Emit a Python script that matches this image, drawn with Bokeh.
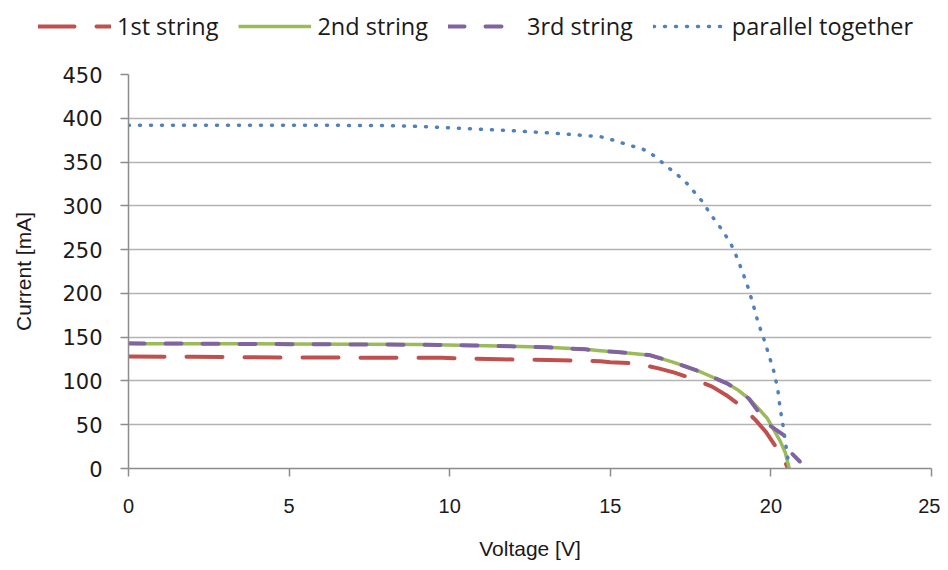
from bokeh.plotting import figure
from bokeh.models import Legend, LegendItem, FixedTicker, Range1d
from bokeh.embed import file_html
from bokeh.resources import INLINE

# ---- data ----
v1 = [0, 2, 5, 8, 9.76, 11.58, 13.45, 14.69, 15.0, 15.83, 16.5, 17.0, 17.54, 18.17, 18.6, 19.05, 19.51, 19.85, 20.14, 20.3, 20.45, 20.52]
i1 = [128, 127.5, 126.8, 126.5, 126.4, 124.8, 123.7, 122.5, 121.4, 119.9, 114.3, 109.5, 102.9, 93.5, 84, 72, 55.8, 41.5, 25.7, 16, 6.8, 1]

v2 = [0, 5, 9.09, 10.75, 11.89, 13.03, 14.22, 14.69, 15.21, 16.25, 17.0, 17.8, 18.63, 19.0, 19.36, 19.88, 20.29, 20.45, 20.57]
i2 = [142.5, 142.3, 141.5, 140.6, 139.5, 138.4, 136.1, 134.5, 133.1, 129.3, 121, 110.5, 97.3, 89, 78.4, 57.7, 31.3, 18, 0]

v3 = [0, 5, 9.09, 10.75, 11.89, 13.03, 14.22, 14.69, 15.21, 16.25, 17.0, 17.8, 18.63, 19.0, 19.31, 19.57, 19.93, 20.4, 20.55, 20.9]
i3 = [143, 142, 141.4, 140.6, 139.5, 138.4, 136.1, 134, 133.1, 129.3, 121, 110.5, 97.3, 89, 80, 67, 50, 38, 21, 8]

vp = [0, 3, 6, 8.06, 9.09, 10.64, 11.98, 13.34, 14.69, 15.0, 15.31, 15.62, 15.94, 16.22, 16.47, 16.70, 16.94,
      17.18, 17.40, 17.59, 17.79, 17.96, 18.11, 18.29, 18.47, 18.62, 18.77, 18.89, 19.10, 19.29, 19.45, 19.60,
      19.79, 19.95, 20.11, 20.22, 20.29, 20.38, 20.47, 20.55]
ip = [392, 392, 392, 391.7, 390.6, 388, 385.7, 382.7, 379, 376, 372.5, 368.8, 366, 361, 354, 347, 339.7,
      332.6, 325, 316.7, 308.5, 299.8, 290.7, 282, 273, 264.4, 255.3, 245.8, 226.2, 206.7, 187, 167,
      147, 128, 108.6, 88.6, 68.2, 48.3, 25.7, 6]

series_names = ["1st string", "2nd string", "3rd string", "parallel together"]
x_ticks = [0, 5, 10, 15, 20, 25]
y_ticks = [0, 50, 100, 150, 200, 250, 300, 350, 400, 450]

styles = [
    dict(line_color="#C0504D", line_width=4, line_dash="36 22", line_cap="round", line_join="round"),
    dict(line_color="#9BBB59", line_width=3.5, line_join="round"),
    dict(line_color="#8064A2", line_width=4, line_dash="16 21", line_cap="round", line_join="round"),
    dict(line_color="#4F81BD", line_width=3.5, line_dash="1 10", line_cap="round", line_join="round"),
]
xs = [v1, v2, v3, vp]
ys = [i1, i2, i3, ip]

LEG_H = 45

# ---------- main chart ----------
p = figure(width=940, height=562 - LEG_H, output_backend="svg", toolbar_location=None,
           x_range=Range1d(0, 25), y_range=Range1d(0, 450),
           min_border_left=128, min_border_right=9, min_border_top=74 - LEG_H, min_border_bottom=91)
p.outline_line_color = None
p.background_fill_color = "white"
p.border_fill_color = "white"

for vx, iy, st in zip(xs, ys, styles):
    p.line(vx, iy, **st)

axis_color = "#8c8c8c"
label_font = "'Liberation Sans', sans-serif"
for ax in (p.xaxis[0], p.yaxis[0]):
    ax.axis_line_color = axis_color
    ax.axis_line_width = 1.5
    ax.major_tick_line_color = axis_color
    ax.major_tick_line_width = 1.5
    ax.major_tick_in = 0
    ax.major_tick_out = 8
    ax.minor_tick_line_color = None
    ax.major_label_text_color = "#1a1a1a"
    ax.axis_label_text_color = "#1a1a1a"
    ax.axis_label_text_font = label_font
    ax.axis_label_text_font_style = "normal"
    ax.axis_label_text_font_size = "21px"

p.xaxis[0].ticker = FixedTicker(ticks=x_ticks)
p.yaxis[0].ticker = FixedTicker(ticks=y_ticks)
p.xaxis[0].axis_label = "Voltage [V]"
p.yaxis[0].axis_label = "Current [mA]"
p.xaxis[0].major_label_text_font = label_font
p.xaxis[0].major_label_text_font_size = "20px"
p.yaxis[0].major_label_text_font = "DejaVu Sans"
p.yaxis[0].major_label_text_font_size = "21px"
p.xaxis[0].major_label_standoff = 22
p.yaxis[0].major_label_standoff = 18
p.xaxis[0].axis_label_standoff = 21
p.yaxis[0].axis_label_standoff = 24

p.xgrid.grid_line_color = None
p.ygrid.grid_line_color = "#b3b3b3"
p.ygrid.grid_line_width = 1.5

# ---------- legend strip (top, its own root so it is not frame-aligned) ----------
lg = figure(width=940, height=LEG_H, output_backend="svg", toolbar_location=None,
            x_range=Range1d(0, 1), y_range=Range1d(-2000, -1000),
            x_axis_type=None, y_axis_type=None,
            min_border_left=0, min_border_right=0, min_border_top=0, min_border_bottom=0)
lg.outline_line_color = None
lg.xgrid.grid_line_color = None
lg.ygrid.grid_line_color = None
leg_renderers = [lg.line(vx, iy, **st) for vx, iy, st in zip(xs, ys, styles)]

legend = Legend(items=[LegendItem(label=n, renderers=[r]) for n, r in zip(series_names, leg_renderers)],
                orientation="horizontal", location=(38, 3),
                glyph_width=73, glyph_height=20, label_standoff=6, spacing=20,
                padding=0, margin=0, border_line_color=None, background_fill_alpha=0,
                label_text_font="Open Sans", label_text_font_size="23.5px", label_text_color="#1a1a1a")
lg.add_layout(legend, "center")

open("out.html", "w").write(file_html([lg, p], INLINE))
